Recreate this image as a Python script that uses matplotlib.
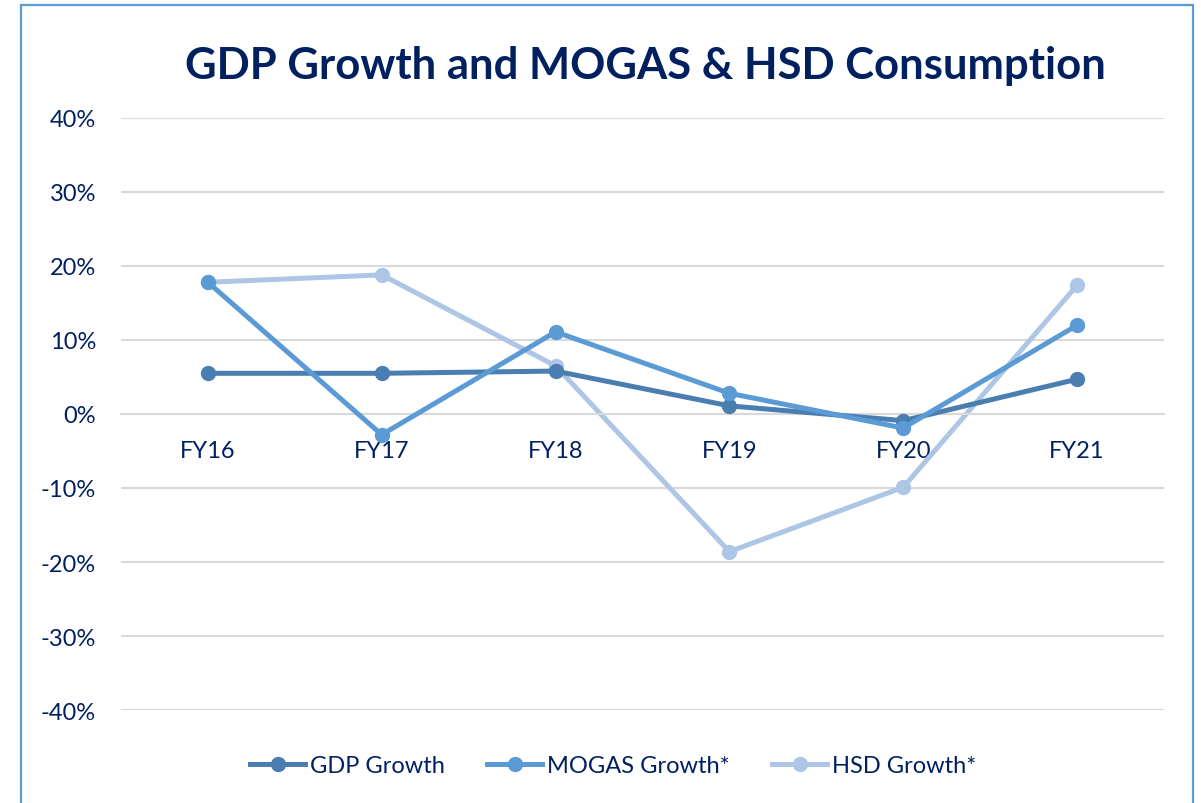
import numpy as np
import matplotlib
matplotlib.use("Agg")
import matplotlib.pyplot as plt
import matplotlib.ticker as ticker
from matplotlib.patches import Rectangle

years = ["FY16", "FY17", "FY18", "FY19", "FY20", "FY21"]
gdp_growth = [5.5, 5.5, 5.8, 1.1, -0.9, 4.7]
mogas_growth = [17.8, -2.8, 11.1, 2.8, -1.9, 12.0]
hsd_growth = [17.8, 18.8, 6.5, -18.6, -9.9, 17.4]
yticks = [-40, -30, -20, -10, 0, 10, 20, 30, 40]

navy = "#002060"
plt.rcParams['font.family'] = ['Lato', 'DejaVu Sans']

fig = plt.figure(figsize=(12.01, 8.04), dpi=100)
ax = fig.add_axes([121/1201, 1 - 711/804, (1164-121)/1201, (711-119)/804])

x = np.arange(len(years))
ax.plot(x, gdp_growth, "-o", color="#4A7EB0", lw=3.6, ms=10, label="GDP Growth", zorder=3)
ax.plot(x, mogas_growth, "-o", color="#5B9BD5", lw=3.6, ms=10, label="MOGAS Growth*", zorder=4)
ax.plot(x, hsd_growth, "-o", color="#ADC6E5", lw=3.6, ms=10, label="HSD Growth*", zorder=2)

ax.set_xlim(-0.5, len(years) - 0.5)
ax.set_ylim(-40, 40)
ax.set_yticks(yticks)
ax.yaxis.set_major_formatter(ticker.FuncFormatter(lambda v, p: "{:d}%".format(int(v))))
ax.grid(axis="y", color="#D9D9D9", lw=1.5)
ax.set_axisbelow(True)
for s in ["top", "right", "left"]:
	ax.spines[s].set_visible(False)
ax.spines["bottom"].set_position(("data", 0))
ax.spines["bottom"].set_color("#D9D9D9")
ax.spines["bottom"].set_linewidth(1.5)
ax.set_xticks(x)
ax.set_xticklabels(years)
ax.tick_params(axis="x", length=0, pad=19, labelsize=17, labelcolor=navy)
ax.tick_params(axis="y", length=0, pad=18, labelsize=17, labelcolor=navy)

fig.text(645/1201, 1 - 66/804, "GDP Growth and MOGAS & HSD Consumption", ha="center", va="center",
	fontsize=31.4, fontweight="bold", color=navy)

fig.legend(loc="center", bbox_to_anchor=(613/1201, 1 - 767/804), ncol=3, frameon=False,
	fontsize=17, labelcolor=navy, handlelength=2.33, handletextpad=0.2, columnspacing=1.8)

fig.patches.append(Rectangle((21/1201, -0.1), (1193-21)/1201, 1.1 - 6/804, transform=fig.transFigure,
	fill=False, edgecolor="#5B9BD5", lw=1.6))

plt.savefig("out.png", dpi=100)
